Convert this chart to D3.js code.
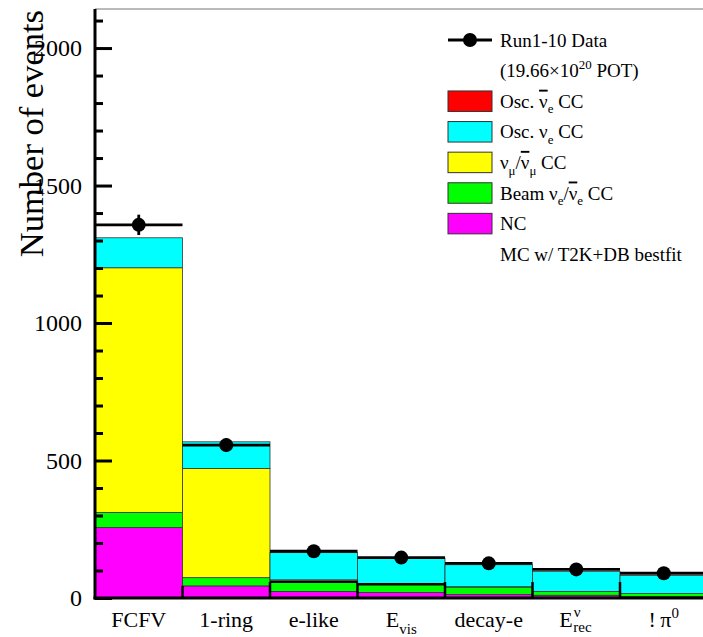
<!DOCTYPE html>
<html><head><meta charset="utf-8">
<script src="https://cdn.jsdelivr.net/npm/d3@7"></script>
<style>body{margin:0;background:#fff} svg{display:block} text{font-family:"Liberation Serif","Times New Roman",serif;fill:#000}</style>
</head><body><svg id="c" width="703" height="637"></svg>
<script>
// ---------- data ----------
const categories = ["FCFV", "1-ring", "e-like", "E_vis", "decay-e", "E_rec", "!pi0"];
const ncVals       = [256, 44, 24, 20, 13, 10, 5];
const beamNueVals  = [55, 30, 32, 29, 27, 14, 11];
const numuVals     = [890, 397, 10, 1, 1, 0, 0];
const oscNueVals   = [109, 97, 99, 95, 80, 73, 66];
const oscNuebarVals= [0, 0, 0, 0, 0, 0, 0];
const dataVals     = [1357, 556, 170, 147, 126, 104, 90];
const dataErrs     = [37, 24, 13, 12, 11, 10, 9];
// black outline pieces near the bottom (vertical at bin edges, horizontal in some bins)
const edgeHeights  = [44, 58, 55, 58, 58, 58];
const binOutline   = [0, 0, 59, 50, 0, 0, 0];
const majorTicks = [0, 500, 1000, 1500, 2000];
const minorTicks = [100,200,300,400,600,700,800,900,1100,1200,1300,1400,1600,1700,1800,1900,2100];
const yMax = 2142;
// tick labels as text parts
const catLabels = [
  [{t:"FCFV"}],
  [{t:"1-ring"}],
  [{t:"e-like"}],
  [{t:"E"},{t:"vis",sub:true}],
  [{t:"decay-e"}],
  null, // E^nu_rec drawn specially
  [{t:"!\u2009\u03C0"},{t:"0",sup:true}]
];
const seriesKeys   = ["nc","beam","numu","oscnue","oscnuebar"];
const seriesColors = {nc:"#ff00ff", beam:"#00ff00", numu:"#ffff00", oscnue:"#00ffff", oscnuebar:"#ff0000"};

const legendItems = [
  {type:"data", parts:[{t:"Run1-10 Data"}]},
  {type:"none", parts:[{t:"(19.66\u00D710"},{t:"20",sup:true},{t:" POT)"}]},
  {type:"box", key:"oscnuebar", parts:[{t:"Osc. "},{t:"\u03BD",over:true},{t:"e",sub:true},{t:" CC"}]},
  {type:"box", key:"oscnue", parts:[{t:"Osc. \u03BD"},{t:"e",sub:true},{t:" CC"}]},
  {type:"box", key:"numu", parts:[{t:"\u03BD"},{t:"\u03BC",sub:true},{t:"/"},{t:"\u03BD",over:true},{t:"\u03BC",sub:true},{t:" CC"}]},
  {type:"box", key:"beam", parts:[{t:"Beam \u03BD"},{t:"e",sub:true},{t:"/"},{t:"\u03BD",over:true},{t:"e",sub:true},{t:" CC"}]},
  {type:"box", key:"nc", parts:[{t:"NC"}]},
  {type:"none", parts:[{t:"MC w/ T2K+DB bestfit"}]}
];

// ---------- chart ----------
const svg = d3.select("#c");
const plotLeft = 95, plotBottom = 598, plotTop = 9, binW = 87.5;
const x = d3.scaleBand().domain(categories).range([plotLeft, plotLeft + binW*categories.length]).padding(0);
const y = d3.scaleLinear().domain([0, yMax]).range([plotBottom, plotTop]);

const table = categories.map((c,i)=>({cat:c, nc:ncVals[i], beam:beamNueVals[i], numu:numuVals[i], oscnue:oscNueVals[i], oscnuebar:oscNuebarVals[i]}));
const stacked = d3.stack().keys(seriesKeys)(table);

const gBars = svg.append("g");
stacked.forEach(layer=>{
  gBars.selectAll(null).data(layer.filter(d=>d[1]-d[0]>0)).enter().append("rect")
    .attr("x", d=>x(d.data.cat)).attr("width", x.bandwidth())
    .attr("y", d=>y(d[1])).attr("height", d=>y(d[0])-y(d[1]))
    .attr("fill", seriesColors[layer.key]).attr("stroke","#333").attr("stroke-width",0.8);
});

// black outline pieces
const gOut = svg.append("g").attr("stroke","#000").attr("stroke-width",2.5);
edgeHeights.forEach((h,i)=>{
  const xe = x(categories[i+1]);
  gOut.append("line").attr("x1",xe).attr("x2",xe).attr("y1",y(0)).attr("y2",y(h));
});
binOutline.forEach((h,i)=>{
  if(h>0) gOut.append("line").attr("x1",x(categories[i])).attr("x2",x(categories[i])+x.bandwidth()).attr("y1",y(h)).attr("y2",y(h));
});

// data
const gData = svg.append("g");
categories.forEach((c,i)=>{
  const cx = x(c)+x.bandwidth()/2;
  gData.append("line").attr("x1",x(c)).attr("x2",x(c)+x.bandwidth()).attr("y1",y(dataVals[i])).attr("y2",y(dataVals[i])).attr("stroke","#000").attr("stroke-width",2.8);
  gData.append("line").attr("x1",cx).attr("x2",cx).attr("y1",y(dataVals[i]+dataErrs[i])).attr("y2",y(dataVals[i]-dataErrs[i])).attr("stroke","#000").attr("stroke-width",2.8);
  gData.append("circle").attr("cx",cx).attr("cy",y(dataVals[i])).attr("r",7).attr("fill","#000");
});

// frame top
svg.append("line").attr("x1",plotLeft).attr("x2",703).attr("y1",plotTop).attr("y2",plotTop).attr("stroke","#777").attr("stroke-width",1);

// y axis
const yAxisMajor = d3.axisLeft(y).tickValues(majorTicks).tickSize(-17).tickPadding(13).tickFormat(d3.format("d"));
const gy = svg.append("g").attr("transform",`translate(${plotLeft},0)`).call(yAxisMajor);
gy.select(".domain").remove();
gy.selectAll(".tick line").attr("stroke","#000").attr("stroke-width",3);
gy.selectAll(".tick text").attr("font-size",24).attr("font-family",'"Liberation Serif","Times New Roman",serif').attr("fill","#000");
const gy2 = svg.append("g").attr("transform",`translate(${plotLeft},0)`).call(d3.axisLeft(y).tickValues(minorTicks).tickSize(-8).tickFormat(""));
gy2.select(".domain").remove();
gy2.selectAll(".tick line").attr("stroke","#000").attr("stroke-width",3);
svg.append("line").attr("x1",plotLeft).attr("x2",plotLeft).attr("y1",plotTop).attr("y2",plotBottom+1.5).attr("stroke","#000").attr("stroke-width",3);
svg.append("line").attr("x1",plotLeft-1.5).attr("x2",703).attr("y1",plotBottom).attr("y2",plotBottom).attr("stroke","#000").attr("stroke-width",3);

// y title
svg.append("text").attr("transform",`translate(43,${plotTop+1}) rotate(-90)`).attr("text-anchor","end")
  .attr("font-size",34.5).text("Number of events");

// helper for rich text
function richText(sel, parts, fs){
  let shift = 0;
  parts.forEach(p=>{
    const ts = sel.append("tspan").text(p.t);
    let target = 0, size = fs;
    if(p.sub){ target = fs*0.3; size = fs*0.68; }
    if(p.sup){ target = -fs*0.42; size = fs*0.68; }
    ts.attr("dy", target - shift).attr("font-size", size);
    if(p.over) ts.style("text-decoration","overline");
    shift = target;
  });
}

// x labels
const labY = 627, labFs = 22;
categories.forEach((c,i)=>{
  const cx = x(c)+x.bandwidth()/2;
  if(catLabels[i]){
    const t = svg.append("text").attr("x",cx).attr("y",labY).attr("text-anchor","middle").attr("font-size",labFs);
    richText(t, catLabels[i], labFs);
  } else {
    const x0 = cx - 17;
    const t = svg.append("text").attr("y",labY).attr("font-size",labFs);
    t.append("tspan").attr("x",x0).text("E");
    t.append("tspan").attr("x",x0+14.5).attr("dy",-10).attr("font-size",15).text("\u03BD");
    t.append("tspan").attr("x",x0+14).attr("dy",15).attr("font-size",15).text("rec");
  }
});

// legend
const lgX = 448, lgW = 44, lgH = 20.5, txtX = 500, row0 = 40, rowH = 30.6, lgFs = 19;
legendItems.forEach((it,i)=>{
  const cy = row0 + i*rowH;
  if(it.type==="data"){
    svg.append("line").attr("x1",lgX).attr("x2",lgX+lgW).attr("y1",cy).attr("y2",cy).attr("stroke","#000").attr("stroke-width",2.8);
    svg.append("circle").attr("cx",lgX+lgW/2).attr("cy",cy).attr("r",7).attr("fill","#000");
  } else if(it.type==="box"){
    svg.append("rect").attr("x",lgX).attr("y",cy-lgH/2).attr("width",lgW).attr("height",lgH)
      .attr("fill",seriesColors[it.key]).attr("stroke","#333").attr("stroke-width",1);
  }
  const t = svg.append("text").attr("x",txtX).attr("y",cy+6.5).attr("font-size",lgFs);
  richText(t, it.parts, lgFs);
});
</script></body></html>
